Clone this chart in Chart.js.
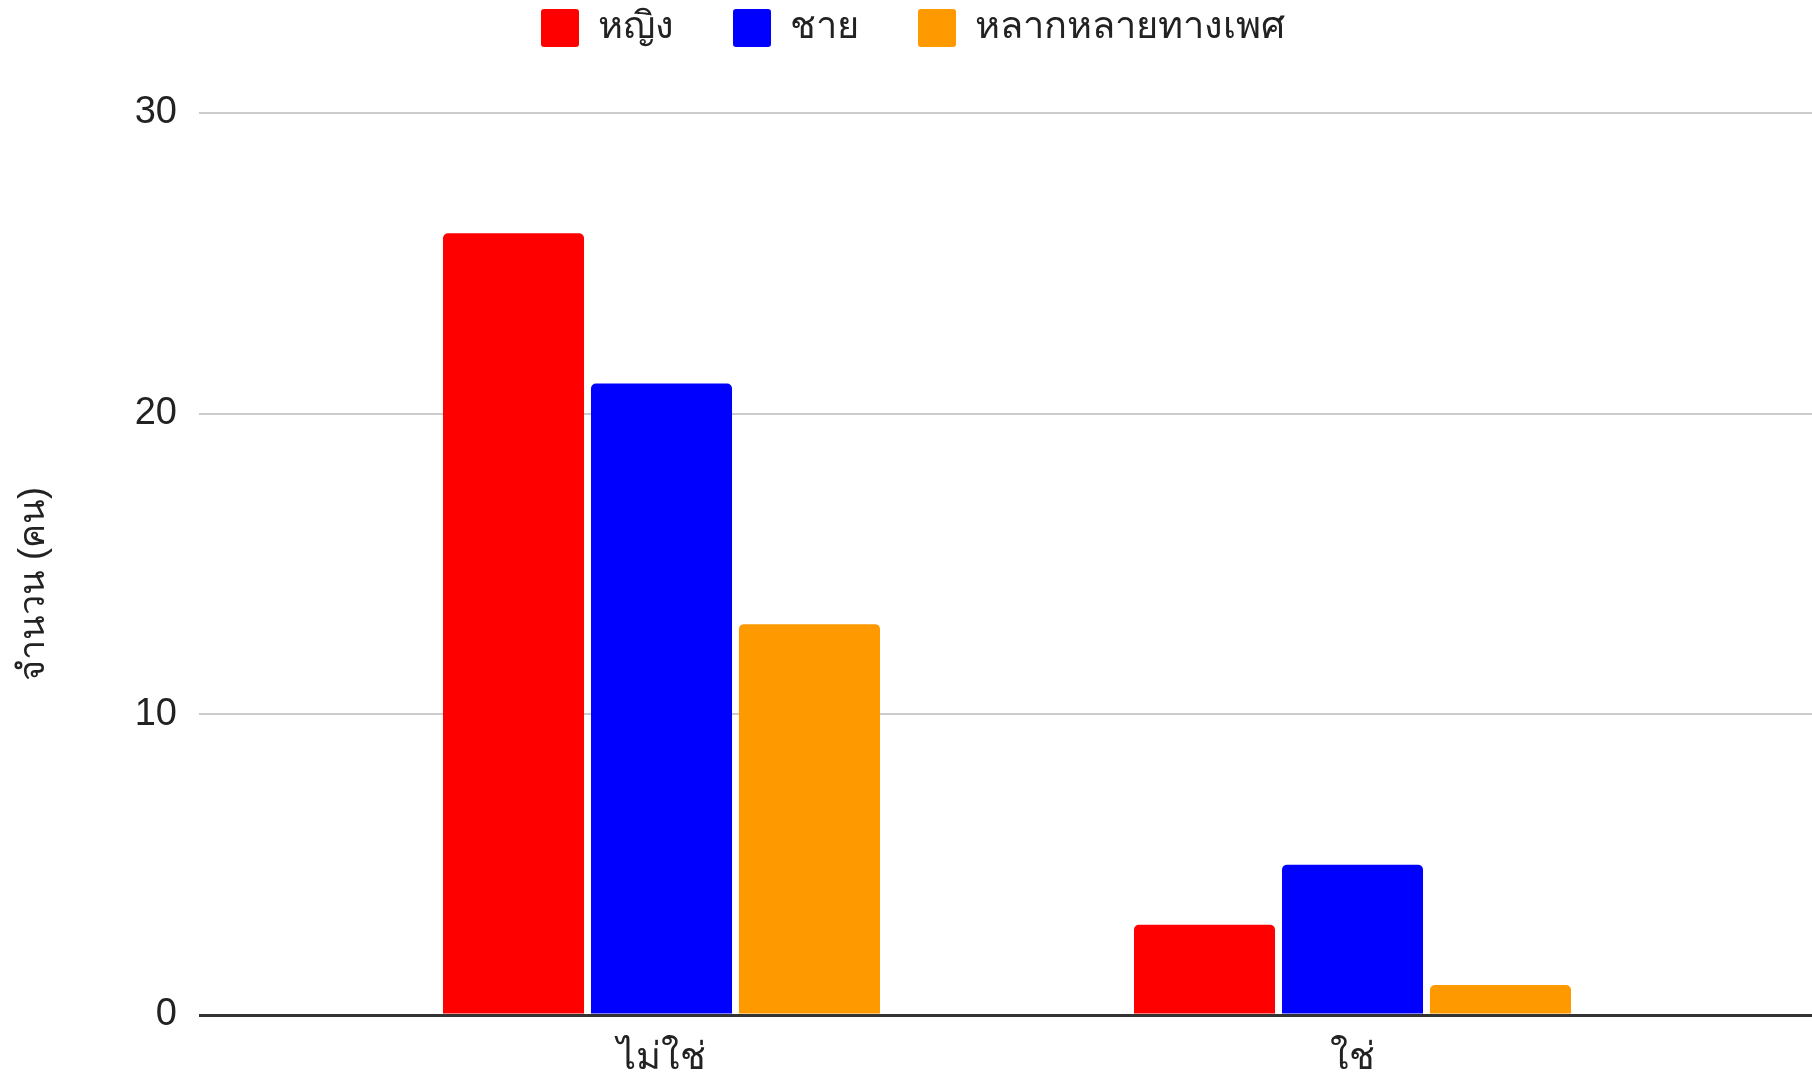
<!DOCTYPE html>
<html>
<head>
<meta charset="utf-8">
<script src="https://cdn.jsdelivr.net/npm/chart.js@4/dist/chart.umd.min.js"></script>
<style>
html,body{margin:0;padding:0;background:#fff;}
#wrap{width:1812px;height:1073px;}
</style>
</head>
<body>
<div id="wrap"><canvas id="c" width="1812" height="1073"></canvas></div>
<script>
const categories = ['ไม่ใช่', 'ใช่'];
const seriesNames = ['หญิง', 'ชาย', 'หลากหลายทางเพศ'];
const women = [26, 3];
const men = [21, 5];
const diverse = [13, 1];
const seriesColors = ['#ff0000', '#0000ff', '#ff9900'];
const yTicks = [0, 10, 20, 30];
const yTitle = 'จำนวน (คน)';

const FONT = "'Liberation Sans', Arial, sans-serif";
const gridColor = ctx => (ctx.tick && ctx.tick.value === 0) ? '#333333' : '#cccccc';
const gridWidth = ctx => (ctx.tick && ctx.tick.value === 0) ? 3 : 2;

const ds = [women, men, diverse].map((d, i) => ({
  label: seriesNames[i],
  data: d,
  backgroundColor: seriesColors[i],
  borderWidth: 0,
  borderRadius: 5,
  borderSkipped: 'start',
  categoryPercentage: 0.6425,
  barPercentage: 0.953,
  yAxisID: 'y'
}));

new Chart(document.getElementById('c'), {
  type: 'bar',
  data: { labels: categories, datasets: ds },
  options: {
    responsive: false,
    animation: false,
    devicePixelRatio: 1,
    layout: { padding: { top: -50, left: 14, right: 0, bottom: 0 } },
    plugins: {
      tooltip: { enabled: false },
      title: {
        display: true,
        text: '',
        weight: 500,
        font: { size: 10, lineHeight: 1 },
        padding: { top: 46, bottom: 0 }
      },
      legend: {
        position: 'top',
        labels: {
          font: { family: FONT, size: 38 },
          color: '#222222',
          boxWidth: 38,
          boxHeight: 38,
          useBorderRadius: true,
          borderRadius: 3,
          padding: 59
        }
      }
    },
    scales: {
      x: {
        grid: { display: false },
        border: { display: false },
        ticks: { font: { family: FONT, size: 38 }, color: '#222222', padding: 13 },
        afterFit: s => { s.height = 58; }
      },
      y: {
        position: 'left',
        min: 0, max: 30,
        afterBuildTicks: s => { s.ticks = yTicks.map(v => ({ value: v })); },
        grid: { color: gridColor, lineWidth: gridWidth, tickLength: 117, drawTicks: true },
        border: { display: false },
        ticks: { font: { family: FONT, size: 38 }, color: '#222222', padding: 22 },
        title: { display: true, text: yTitle + '    ', font: { family: FONT, size: 36 }, color: '#222222', padding: { top: -2, bottom: 0 } },
        afterFit: s => { s.width = 302; }
      },
      y2: {
        position: 'right',
        min: 0, max: 30,
        afterBuildTicks: s => { s.ticks = yTicks.map(v => ({ value: v })); },
        grid: { color: gridColor, lineWidth: gridWidth, tickLength: 114, drawTicks: true, drawOnChartArea: false },
        border: { display: false },
        ticks: { display: false },
        afterFit: s => { s.width = 114; }
      }
    }
  }
});
</script>
</body>
</html>
